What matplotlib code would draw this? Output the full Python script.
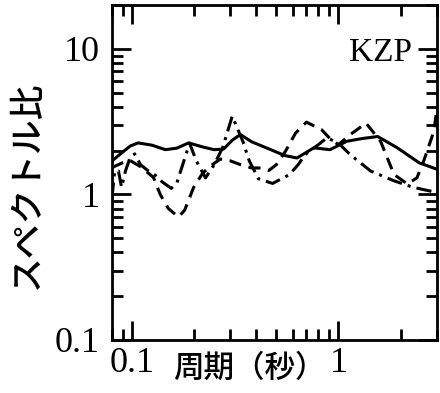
import numpy as np
import matplotlib
matplotlib.use("Agg")
import matplotlib.pyplot as plt
from matplotlib.ticker import FixedLocator, LogLocator, NullFormatter

# period (s) / spectral ratio for the three records at KZP
solid_period = [0.08, 0.09, 0.098, 0.107, 0.125, 0.145, 0.165, 0.188, 0.22, 0.25,
                0.278, 0.305, 0.335, 0.38, 0.47, 0.55, 0.63, 0.76, 0.91, 1.1,
                1.3, 1.55, 1.93, 2.46, 3.0]
solid_ratio = [1.70, 1.95, 2.15, 2.26, 2.18, 2.03, 2.08, 2.26, 2.12, 2.03,
               2.05, 2.35, 2.58, 2.30, 2.03, 1.85, 1.78, 2.09, 2.03, 2.32,
               2.42, 2.50, 2.09, 1.65, 1.49]

dash_period = [0.08, 0.09, 0.098, 0.11, 0.127, 0.137, 0.15, 0.168, 0.18, 0.199,
               0.22, 0.24, 0.268, 0.30, 0.336, 0.38, 0.42, 0.46, 0.5, 0.555,
               0.62, 0.70, 0.83, 0.92, 1.0, 1.15, 1.36, 1.6, 1.86, 2.16,
               2.4, 2.59, 2.9, 3.0]
dash_ratio = [1.53, 1.65, 1.71, 1.55, 1.31, 1.0, 0.80, 0.70, 0.78, 1.12,
              1.40, 1.57, 1.75, 1.70, 1.60, 1.52, 1.52, 1.46, 1.60, 1.99,
              2.64, 3.14, 2.78, 2.38, 2.20, 2.60, 3.09, 2.32, 1.37, 1.18,
              1.30, 1.70, 2.72, 3.9]

dashdot_period = [0.08, 0.0825, 0.086, 0.089, 0.093, 0.098, 0.103, 0.11, 0.12, 0.13,
                  0.14, 0.155, 0.165, 0.19, 0.205, 0.227, 0.25, 0.275, 0.306, 0.345,
                  0.37, 0.41, 0.48, 0.58, 0.64, 0.69, 0.8, 0.88, 1.0, 1.14,
                  1.43, 1.86, 2.3, 3.0]
dashdot_ratio = [0.95, 1.45, 1.45, 1.12, 1.45, 1.80, 1.90, 1.60, 1.45, 1.35,
                 1.22, 1.10, 1.20, 2.25, 1.70, 1.30, 1.60, 2.10, 3.45, 2.30,
                 1.70, 1.28, 1.19, 1.37, 1.61, 1.88, 2.20, 2.45, 2.25, 1.88,
                 1.45, 1.24, 1.12, 1.03]

x_ticks = [0.1, 1]
x_ticklabels = ["0.1", "1"]
y_ticks = [0.1, 1, 10]
y_ticklabels = ["0.1", "1", "10"]

serif = "Liberation Serif"
jp = ["Noto Sans CJK JP", "DejaVu Sans"]

fig = plt.figure(figsize=(4.4, 3.93), dpi=100)
ax = fig.add_axes([0.2545, 0.135, 0.7385, 0.852])

lw = 2.2
ax.plot(solid_period, solid_ratio, color="black", lw=lw, linestyle="-")
ax.plot(dash_period, dash_ratio, color="black", lw=lw, linestyle=(0, (4, 2.5)))
ax.plot(dashdot_period, dashdot_ratio, color="black", lw=lw, linestyle=(0, (5, 2, 1, 2)))

ax.set_xscale("log")
ax.set_yscale("log")
ax.set_xlim(0.08, 3.0)
ax.set_ylim(0.1, 20)

ax.xaxis.set_major_locator(FixedLocator(x_ticks))
ax.set_xticklabels(x_ticklabels)
ax.yaxis.set_major_locator(FixedLocator(y_ticks))
ax.set_yticklabels(y_ticklabels)
for axis in (ax.xaxis, ax.yaxis):
    axis.set_minor_locator(LogLocator(base=10, subs=np.arange(2, 10), numticks=20))
    axis.set_minor_formatter(NullFormatter())

ax.tick_params(which="both", direction="in", top=True, right=True, width=2, colors="black")
ax.tick_params(which="major", length=14)
ax.tick_params(which="minor", length=8)
ax.tick_params(axis="y", which="major", pad=9)
ax.tick_params(axis="x", which="major", pad=5)
for lab in ax.get_xticklabels() + ax.get_yticklabels():
    lab.set_fontfamily(serif)
    lab.set_fontsize(26)

for sp in ax.spines.values():
    sp.set_linewidth(2)

ax.text(0.825, 0.857, "KZP", transform=ax.transAxes, ha="center", va="center",
        fontfamily=serif, fontsize=24)

fig.text(0.566, 0.064, "周期（秒）", ha="center", va="center",
         family=jp, fontsize=22, fontweight="medium")
fig.text(0.061, 0.529, "スペクトル比", ha="center", va="center", rotation=90,
         family=jp, fontsize=25, fontweight="medium")

fig.savefig("out.png", dpi=100)
